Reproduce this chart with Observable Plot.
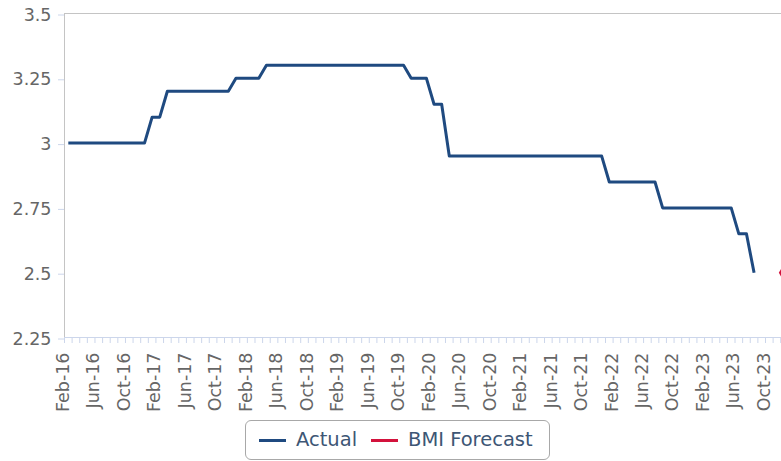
<!DOCTYPE html>
<html>
<head>
<meta charset="utf-8">
<script src="https://cdn.jsdelivr.net/npm/d3@7"></script>
<script src="https://cdn.jsdelivr.net/npm/@observablehq/plot@0.6"></script>
<style>
  html, body { margin: 0; padding: 0; background: #fff; overflow: hidden; }
  body { font-family: "DejaVu Sans", Verdana, sans-serif; width: 781px; height: 461px; }
  #chart svg { display: block; overflow: hidden; }
  .legend { position: relative; margin-left: 245px; margin-top: 2px; width: 303px; height: 38px;
            border: 1px solid #a8a8a8; border-radius: 6px; box-sizing: content-box; }
  .legend .sw { position: absolute; top: 18px; width: 27px; height: 3px; }
  .legend .lb { position: absolute; top: 7px; font-size: 19.5px; line-height: 24px; color: #3d5675; white-space: nowrap; }
</style>
</head>
<body>
<div id="chart"></div>
<div class="legend" id="legend"></div>
<script>
// Month categories (Feb-16 .. Jan-24)
const months = d3.utcMonth.range(new Date(Date.UTC(2016, 1, 1)), new Date(Date.UTC(2024, 1, 1)))
  .map(d3.utcFormat("%b-%y"));

// Actual policy rate, one value per month starting Feb-16
const actualValues = [
  3.0, 3.0, 3.0, 3.0, 3.0, 3.0, 3.0, 3.0, 3.0, 3.0, 3.0,
  3.1, 3.1,
  3.2, 3.2, 3.2, 3.2, 3.2, 3.2, 3.2, 3.2, 3.2,
  3.25, 3.25, 3.25, 3.25,
  3.3, 3.3, 3.3, 3.3, 3.3, 3.3, 3.3, 3.3, 3.3, 3.3, 3.3, 3.3, 3.3, 3.3, 3.3, 3.3, 3.3, 3.3, 3.3,
  3.25, 3.25, 3.25,
  3.15, 3.15,
  2.95, 2.95, 2.95, 2.95, 2.95, 2.95, 2.95, 2.95, 2.95, 2.95, 2.95, 2.95, 2.95, 2.95, 2.95, 2.95, 2.95, 2.95, 2.95, 2.95, 2.95,
  2.85, 2.85, 2.85, 2.85, 2.85, 2.85, 2.85,
  2.75, 2.75, 2.75, 2.75, 2.75, 2.75, 2.75, 2.75, 2.75, 2.75,
  2.65, 2.65,
  2.5
];

// BMI forecast
const forecastMonths = ["Dec-23"];
const forecastValues = [2.5];

// Axis ticks
const yTicks = [2.25, 2.5, 2.75, 3, 3.25, 3.5];
const xLabelMonths = ["Feb-16","Jun-16","Oct-16","Feb-17","Jun-17","Oct-17","Feb-18","Jun-18","Oct-18",
  "Feb-19","Jun-19","Oct-19","Feb-20","Jun-20","Oct-20","Feb-21","Jun-21","Oct-21","Feb-22","Jun-22",
  "Oct-22","Feb-23","Jun-23","Oct-23"];

const series = [
  {name: "Actual", color: "#1f4a80"},
  {name: "BMI Forecast", color: "#d3123c"}
];

const actual = actualValues.map((v, i) => ({month: months[i], value: v}));
const forecast = forecastValues.map((v, i) => ({month: forecastMonths[i], value: v}));
const idx = m => months.indexOf(m);

const xDomainEnd = 93.6;
const boundaries = d3.range(-0.5, 94, 1);

const chart = Plot.plot({
  width: 781,
  height: 418,
  marginLeft: 64,
  marginRight: 0,
  marginTop: 13,
  marginBottom: 81,
  style: {fontFamily: "DejaVu Sans, Verdana, sans-serif", fontSize: "17.5px", background: "#fff"},
  x: {type: "linear", domain: [-0.5, xDomainEnd], label: null},
  y: {domain: [2.25, 3.5], label: null},
  marks: [
    Plot.ruleY([3.5], {stroke: "#c4c4c4", strokeWidth: 1}),
    Plot.ruleX([-0.5], {stroke: "#c4c4c4", strokeWidth: 1}),
    Plot.ruleY([2.25], {stroke: "#ccd6eb", strokeWidth: 1}),
    Plot.axisY({ticks: yTicks, tickFormat: d => String(d), tickSize: 6, tickPadding: 7,
      stroke: "#ccd6eb", fill: "#666", dy: 1.5, label: null}),
    Plot.axisX({ticks: boundaries, tickFormat: () => "", tickSize: 6, stroke: "#ccd6eb", label: null}),
    Plot.axisX({ticks: xLabelMonths.map(idx), tickFormat: i => months[i], tickRotate: -90,
      tickSize: 0, tickPadding: 15, fill: "#666", dx: -5, label: null}),
    Plot.line(actual, {x: d => idx(d.month), y: "value", stroke: series[0].color, strokeWidth: 3,
      strokeLinejoin: "round", strokeLinecap: "butt"}),
    Plot.dot(forecast, {x: d => idx(d.month), y: "value", symbol: "diamond", r: 6, fill: series[1].color, stroke: "none"})
  ]
});
document.getElementById("chart").appendChild(chart);

// Legend
const legend = document.getElementById("legend");
const pos = [{sw: 13, lb: 50}, {sw: 125, lb: 162}];
series.forEach((s, i) => {
  const sw = document.createElement("div");
  sw.className = "sw";
  sw.style.left = pos[i].sw + "px";
  sw.style.background = s.color;
  const lb = document.createElement("div");
  lb.className = "lb";
  lb.style.left = pos[i].lb + "px";
  lb.textContent = s.name;
  legend.appendChild(sw);
  legend.appendChild(lb);
});
</script>
</body>
</html>
